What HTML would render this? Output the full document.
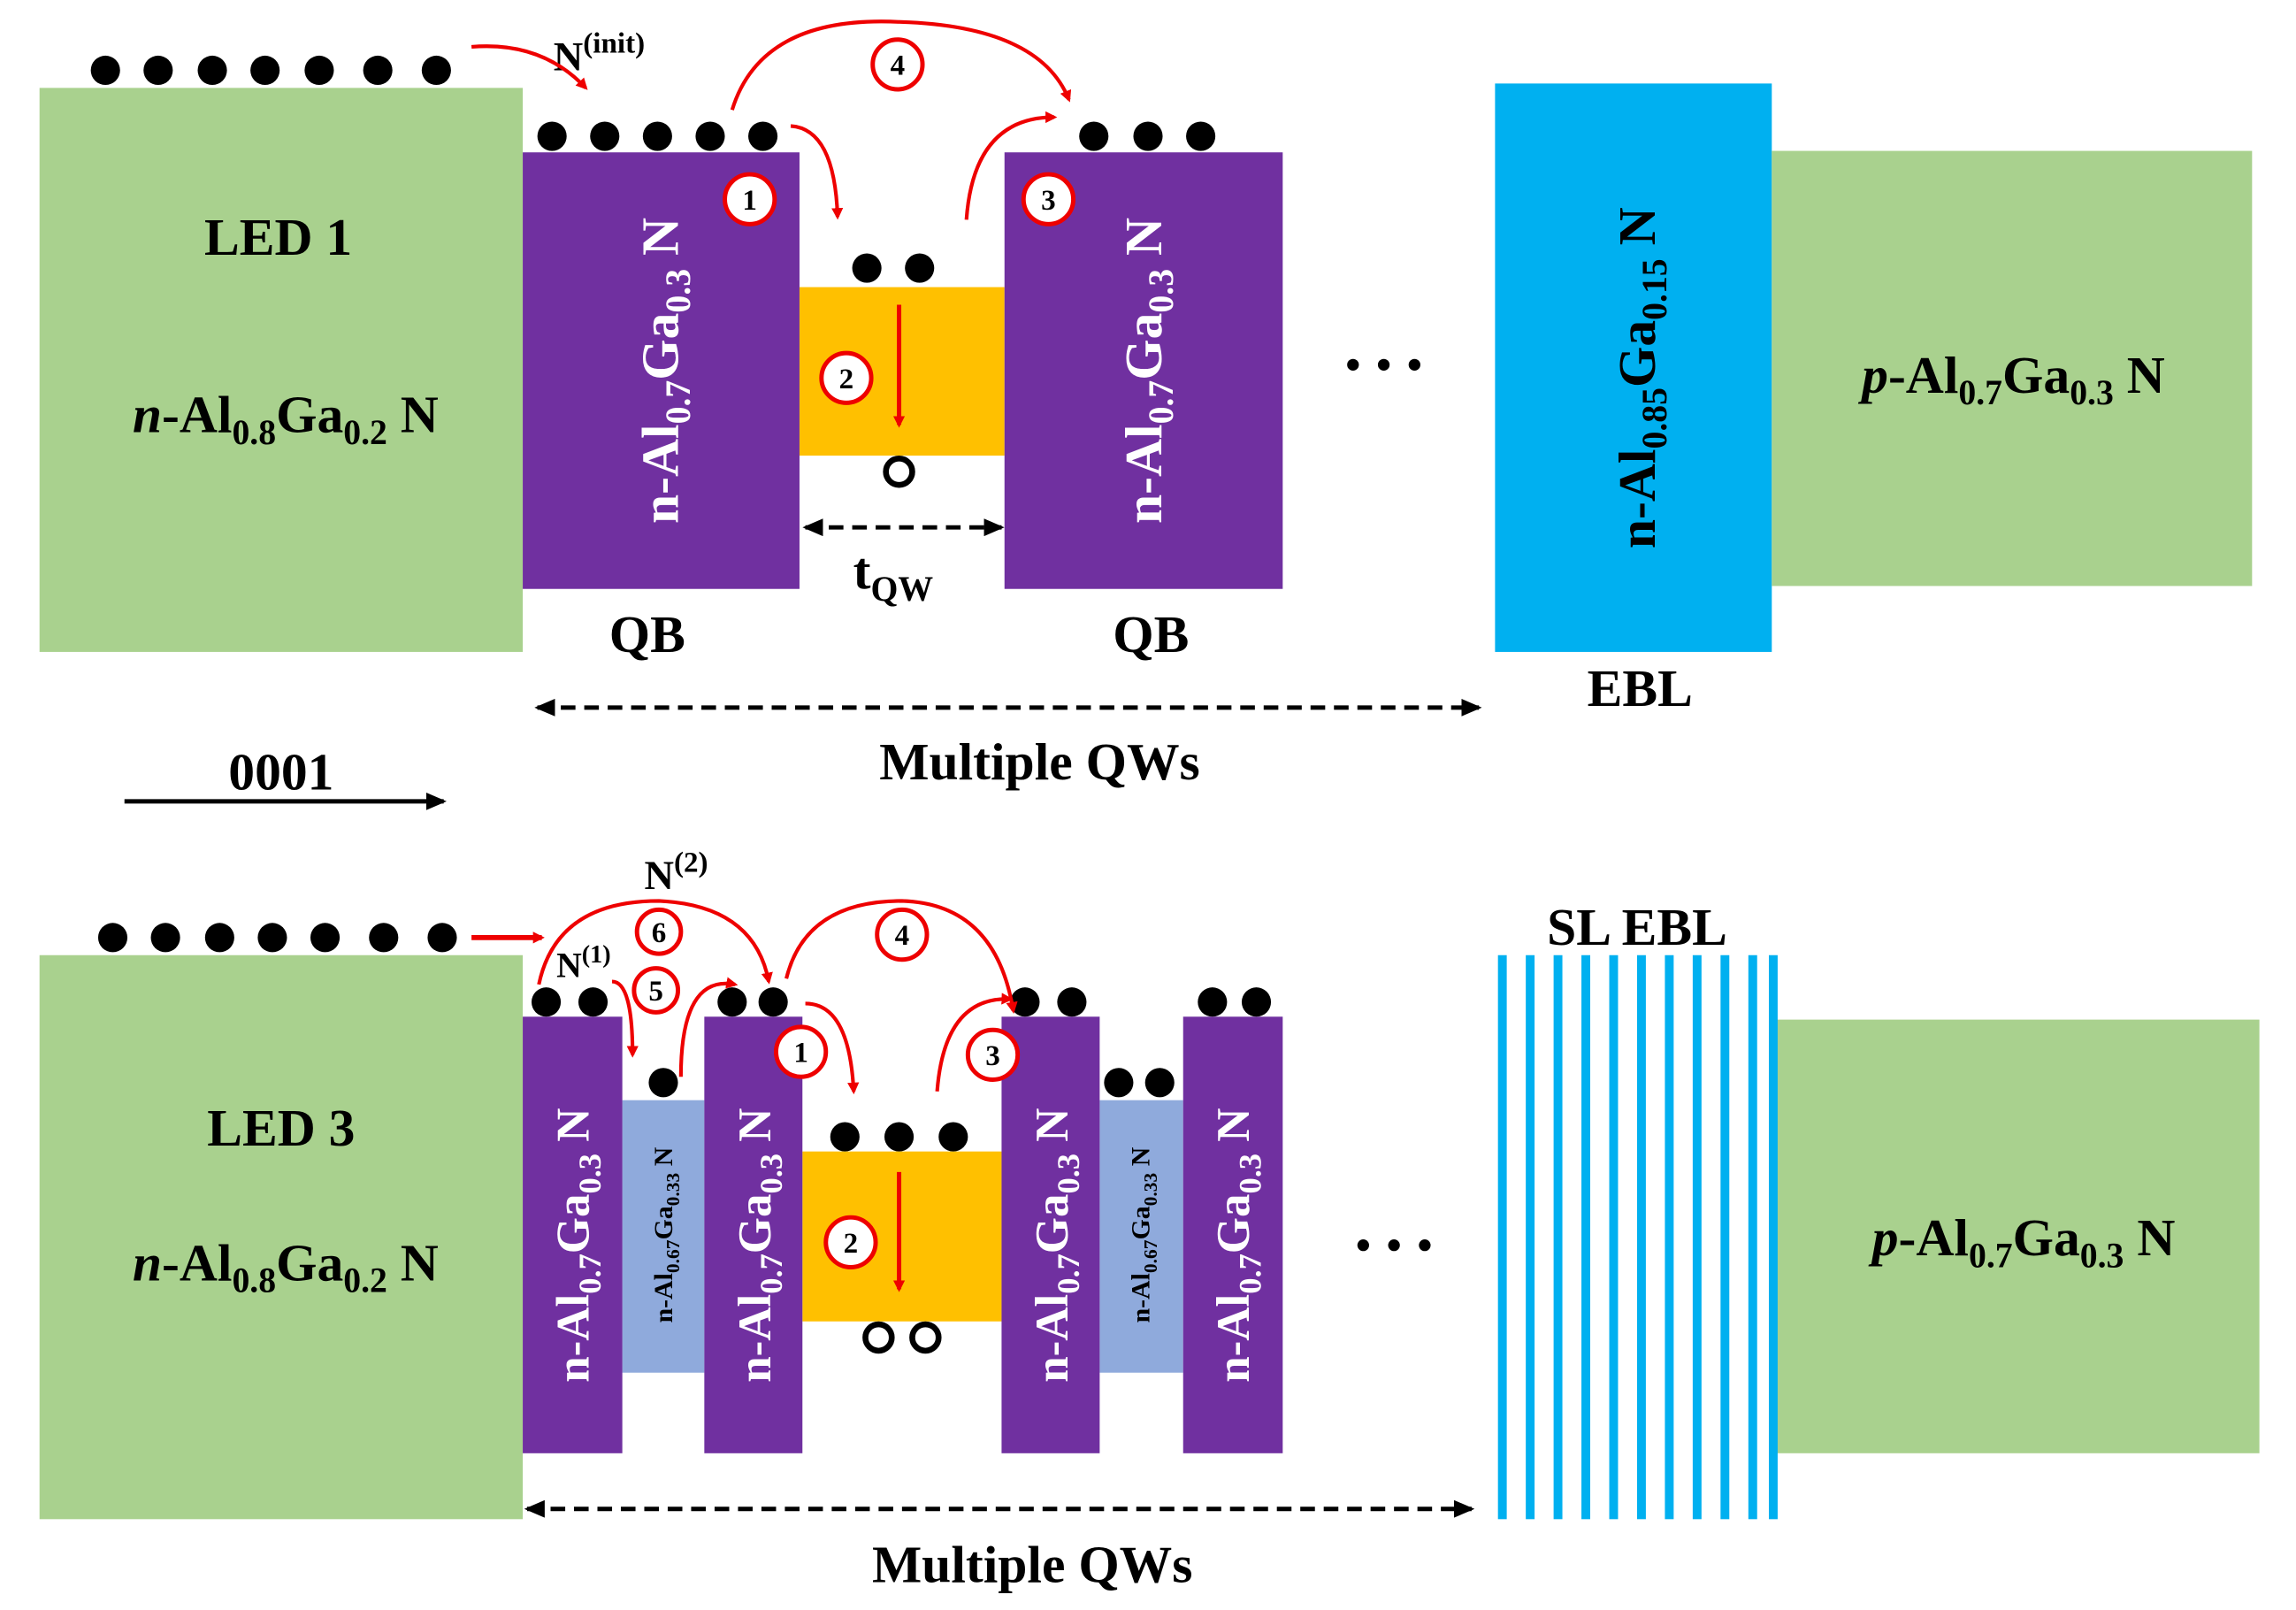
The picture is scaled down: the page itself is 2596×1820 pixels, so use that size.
<!DOCTYPE html>
<html><head><meta charset="utf-8"><style>html,body{margin:0;padding:0;background:#fff}svg{display:block}</style></head>
<body>
<svg width="2596" height="1820" viewBox="0 0 1568 1099" preserveAspectRatio="none" xmlns="http://www.w3.org/2000/svg" font-family="'Liberation Serif', serif" font-weight="bold">
<defs>
<marker id="ar" markerWidth="8" markerHeight="8" refX="6" refY="4" orient="auto" markerUnits="userSpaceOnUse"><path d="M0,0 L8,4 L0,8 z" fill="#e00"/></marker>
<marker id="ak" markerWidth="14" markerHeight="12" refX="12" refY="6" orient="auto" markerUnits="userSpaceOnUse"><path d="M0,0 L14,6 L0,12 z" fill="#000"/></marker>
<marker id="aks" markerWidth="14" markerHeight="12" refX="2" refY="6" orient="auto" markerUnits="userSpaceOnUse"><path d="M14,0 L0,6 L14,12 z" fill="#000"/></marker>
</defs>
<!-- TOP -->
<rect x="27" y="60" width="330" height="385" fill="#a9d18e"/>
<rect x="357" y="104" width="189" height="298" fill="#7030a0"/>
<rect x="546" y="196" width="140" height="115" fill="#ffc000"/>
<rect x="686" y="104" width="190" height="298" fill="#7030a0"/>
<rect x="1021" y="57" width="189" height="388" fill="#00b0f0"/>
<rect x="1210" y="103" width="328" height="297" fill="#a9d18e"/>
<g fill="#000">
<circle cx="72" cy="48" r="10"/><circle cx="108" cy="48" r="10"/><circle cx="145" cy="48" r="10"/><circle cx="181" cy="48" r="10"/><circle cx="218" cy="48" r="10"/><circle cx="258" cy="48" r="10"/><circle cx="298" cy="48" r="10"/>
<circle cx="377" cy="93" r="10"/><circle cx="413" cy="93" r="10"/><circle cx="449" cy="93" r="10"/><circle cx="485" cy="93" r="10"/><circle cx="521" cy="93" r="10"/>
<circle cx="747" cy="93" r="10"/><circle cx="784" cy="93" r="10"/><circle cx="820" cy="93" r="10"/>
<circle cx="592" cy="183" r="10"/><circle cx="628" cy="183" r="10"/>
<circle cx="924" cy="249" r="4"/><circle cx="945" cy="249" r="4"/><circle cx="966" cy="249" r="4"/>
</g>
<circle cx="614" cy="322" r="9" fill="#fff" stroke="#000" stroke-width="4"/>
<g font-size="36" text-anchor="middle">
<text x="190" y="174">LED 1</text>
<text x="195" y="295"><tspan font-style="italic">n</tspan>-Al<tspan font-size="24" dy="8">0.8</tspan><tspan dy="-8">Ga</tspan><tspan font-size="24" dy="8">0.2</tspan><tspan dy="-8"> N</tspan></text>
<text x="1375" y="268"><tspan font-style="italic">p</tspan>-Al<tspan font-size="24" dy="8">0.7</tspan><tspan dy="-8">Ga</tspan><tspan font-size="24" dy="8">0.3</tspan><tspan dy="-8"> N</tspan></text>
<text x="442" y="445">QB</text><text x="786" y="445">QB</text>
<text x="1120" y="482">EBL</text>
<text x="610" y="402">t<tspan font-size="24" dy="8">QW</tspan></text>
<text x="710" y="532">Multiple QWs</text>
<text x="192" y="539">0001</text>
</g>
<g font-size="36" fill="#fff" text-anchor="middle">
<text transform="translate(451,253) rotate(-90)" y="12">n-Al<tspan font-size="24" dy="8">0.7</tspan><tspan dy="-8">Ga</tspan><tspan font-size="24" dy="8">0.3</tspan><tspan dy="-8"> N</tspan></text>
<text transform="translate(781,253) rotate(-90)" y="12">n-Al<tspan font-size="24" dy="8">0.7</tspan><tspan dy="-8">Ga</tspan><tspan font-size="24" dy="8">0.3</tspan><tspan dy="-8"> N</tspan></text>
</g>
<text transform="translate(1118,258) rotate(-90)" y="12" font-size="36" text-anchor="middle">n-Al<tspan font-size="24" dy="8">0.85</tspan><tspan dy="-8">Ga</tspan><tspan font-size="24" dy="8">0.15</tspan><tspan dy="-8"> N</tspan></text>
<text x="378" y="48" font-size="28">N<tspan font-size="20" dy="-12">(init)</tspan></text>
<line x1="85" y1="547" x2="303" y2="547" stroke="#000" stroke-width="3" marker-end="url(#ak)"/>
<line x1="367" y1="483" x2="1010" y2="483" stroke="#000" stroke-width="3" stroke-dasharray="10,6" marker-start="url(#aks)" marker-end="url(#ak)"/>
<line x1="550" y1="360" x2="684" y2="360" stroke="#000" stroke-width="3" stroke-dasharray="10,6" marker-start="url(#aks)" marker-end="url(#ak)"/>
<g fill="none" stroke="#e00" stroke-width="2.5">
<path d="M322,32 Q370,28 400,60" marker-end="url(#ar)"/>
<path d="M500,75 Q520,10 615,15 Q710,18 730,68" marker-end="url(#ar)"/>
<path d="M540,86 Q570,88 572,148" marker-end="url(#ar)"/>
<path d="M614,208 L614,290" stroke-width="3" marker-end="url(#ar)"/>
<path d="M660,150 Q665,80 720,80" marker-end="url(#ar)"/>
</g>
<g font-size="20" text-anchor="middle">
<circle cx="512" cy="136" r="17" fill="#fff" stroke="#e00" stroke-width="3"/><text x="512" y="143">1</text>
<circle cx="578" cy="258" r="17" fill="#fff" stroke="#e00" stroke-width="3"/><text x="578" y="265">2</text>
<circle cx="716" cy="136" r="17" fill="#fff" stroke="#e00" stroke-width="3"/><text x="716" y="143">3</text>
<circle cx="613" cy="44" r="17" fill="#fff" stroke="#e00" stroke-width="3"/><text x="613" y="51">4</text>
</g>
<!-- BOTTOM -->
<rect x="27" y="652" width="330" height="385" fill="#a9d18e"/>
<rect x="425" y="751" width="56" height="186" fill="#8faadc"/>
<rect x="751" y="751" width="57" height="186" fill="#8faadc"/>
<rect x="548" y="786" width="136" height="116" fill="#ffc000"/>
<rect x="357" y="694" width="68" height="298" fill="#7030a0"/>
<rect x="481" y="694" width="67" height="298" fill="#7030a0"/>
<rect x="684" y="694" width="67" height="298" fill="#7030a0"/>
<rect x="808" y="694" width="68" height="298" fill="#7030a0"/>
<rect x="1213" y="696" width="330" height="296" fill="#a9d18e"/>
<g fill="#00b0f0">
<rect x="1023" y="652" width="6" height="385"/><rect x="1042" y="652" width="6" height="385"/><rect x="1061" y="652" width="6" height="385"/><rect x="1080" y="652" width="6" height="385"/><rect x="1099" y="652" width="6" height="385"/><rect x="1118" y="652" width="6" height="385"/><rect x="1137" y="652" width="6" height="385"/><rect x="1156" y="652" width="6" height="385"/><rect x="1175" y="652" width="6" height="385"/><rect x="1194" y="652" width="6" height="385"/><rect x="1208" y="652" width="6" height="385"/>
</g>
<g fill="#000">
<circle cx="77" cy="640" r="10"/><circle cx="113" cy="640" r="10"/><circle cx="150" cy="640" r="10"/><circle cx="186" cy="640" r="10"/><circle cx="222" cy="640" r="10"/><circle cx="262" cy="640" r="10"/><circle cx="302" cy="640" r="10"/>
<circle cx="373" cy="684" r="10"/><circle cx="405" cy="684" r="10"/><circle cx="500" cy="684" r="10"/><circle cx="528" cy="684" r="10"/>
<circle cx="700" cy="684" r="10"/><circle cx="732" cy="684" r="10"/><circle cx="828" cy="684" r="10"/><circle cx="858" cy="684" r="10"/>
<circle cx="453" cy="739" r="10"/><circle cx="764" cy="739" r="10"/><circle cx="792" cy="739" r="10"/>
<circle cx="577" cy="776" r="10"/><circle cx="614" cy="776" r="10"/><circle cx="651" cy="776" r="10"/>
<circle cx="931" cy="850" r="4"/><circle cx="952" cy="850" r="4"/><circle cx="973" cy="850" r="4"/>
</g>
<circle cx="600" cy="913" r="9" fill="#fff" stroke="#000" stroke-width="4"/>
<circle cx="632" cy="913" r="9" fill="#fff" stroke="#000" stroke-width="4"/>
<g font-size="36" text-anchor="middle">
<text x="192" y="782">LED 3</text>
<text x="195" y="874"><tspan font-style="italic">n</tspan>-Al<tspan font-size="24" dy="8">0.8</tspan><tspan dy="-8">Ga</tspan><tspan font-size="24" dy="8">0.2</tspan><tspan dy="-8"> N</tspan></text>
<text x="1382" y="857"><tspan font-style="italic">p</tspan>-Al<tspan font-size="24" dy="8">0.7</tspan><tspan dy="-8">Ga</tspan><tspan font-size="24" dy="8">0.3</tspan><tspan dy="-8"> N</tspan></text>
<text x="1118" y="645">SL EBL</text>
<text x="705" y="1080">Multiple QWs</text>
</g>
<g font-size="32" fill="#fff" text-anchor="middle">
<text transform="translate(391,850) rotate(-90)" y="11">n-Al<tspan font-size="22" dy="8">0.7</tspan><tspan dy="-8">Ga</tspan><tspan font-size="22" dy="8">0.3</tspan><tspan dy="-8"> N</tspan></text>
<text transform="translate(515,850) rotate(-90)" y="11">n-Al<tspan font-size="22" dy="8">0.7</tspan><tspan dy="-8">Ga</tspan><tspan font-size="22" dy="8">0.3</tspan><tspan dy="-8"> N</tspan></text>
<text transform="translate(718,850) rotate(-90)" y="11">n-Al<tspan font-size="22" dy="8">0.7</tspan><tspan dy="-8">Ga</tspan><tspan font-size="22" dy="8">0.3</tspan><tspan dy="-8"> N</tspan></text>
<text transform="translate(842,850) rotate(-90)" y="11">n-Al<tspan font-size="22" dy="8">0.7</tspan><tspan dy="-8">Ga</tspan><tspan font-size="22" dy="8">0.3</tspan><tspan dy="-8"> N</tspan></text>
</g>
<g font-size="18" text-anchor="middle">
<text transform="translate(453,843) rotate(-90)" y="6">n-Al<tspan font-size="13" dy="5">0.67</tspan><tspan dy="-5">Ga</tspan><tspan font-size="13" dy="5">0.33</tspan><tspan dy="-5"> N</tspan></text>
<text transform="translate(779,843) rotate(-90)" y="6">n-Al<tspan font-size="13" dy="5">0.67</tspan><tspan dy="-5">Ga</tspan><tspan font-size="13" dy="5">0.33</tspan><tspan dy="-5"> N</tspan></text>
</g>
<text x="440" y="607" font-size="28">N<tspan font-size="20" dy="-12">(2)</tspan></text>
<text x="380" y="667" font-size="24">N<tspan font-size="17" dy="-10">(1)</tspan></text>
<line x1="360" y1="1030" x2="1005" y2="1030" stroke="#000" stroke-width="3" stroke-dasharray="10,6" marker-start="url(#aks)" marker-end="url(#ak)"/>
<g fill="none" stroke="#e00" stroke-width="2.5">
<path d="M322,640 L370,640" stroke-width="3.5" marker-end="url(#ar)"/>
<path d="M368,672 Q380,615 450,615 Q515,618 525,670" marker-end="url(#ar)"/>
<path d="M418,670 Q432,670 432,720" marker-end="url(#ar)"/>
<path d="M465,735 Q465,665 502,672" marker-end="url(#ar)"/>
<path d="M537,668 Q550,615 616,615 Q680,617 692,690" marker-end="url(#ar)"/>
<path d="M550,685 Q580,685 583,745" marker-end="url(#ar)"/>
<path d="M614,800 L614,880" stroke-width="3" marker-end="url(#ar)"/>
<path d="M640,745 Q645,680 690,682" marker-end="url(#ar)"/>
</g>
<g font-size="20" text-anchor="middle">
<circle cx="450" cy="636" r="15" fill="#fff" stroke="#e00" stroke-width="3"/><text x="450" y="643">6</text>
<circle cx="448" cy="676" r="15" fill="#fff" stroke="#e00" stroke-width="3"/><text x="448" y="683">5</text>
<circle cx="616" cy="638" r="17" fill="#fff" stroke="#e00" stroke-width="3"/><text x="616" y="645">4</text>
<circle cx="547" cy="718" r="17" fill="#fff" stroke="#e00" stroke-width="3"/><text x="547" y="725">1</text>
<circle cx="581" cy="848" r="17" fill="#fff" stroke="#e00" stroke-width="3"/><text x="581" y="855">2</text>
<circle cx="678" cy="720" r="17" fill="#fff" stroke="#e00" stroke-width="3"/><text x="678" y="727">3</text>
</g>
</svg>
</body></html>
